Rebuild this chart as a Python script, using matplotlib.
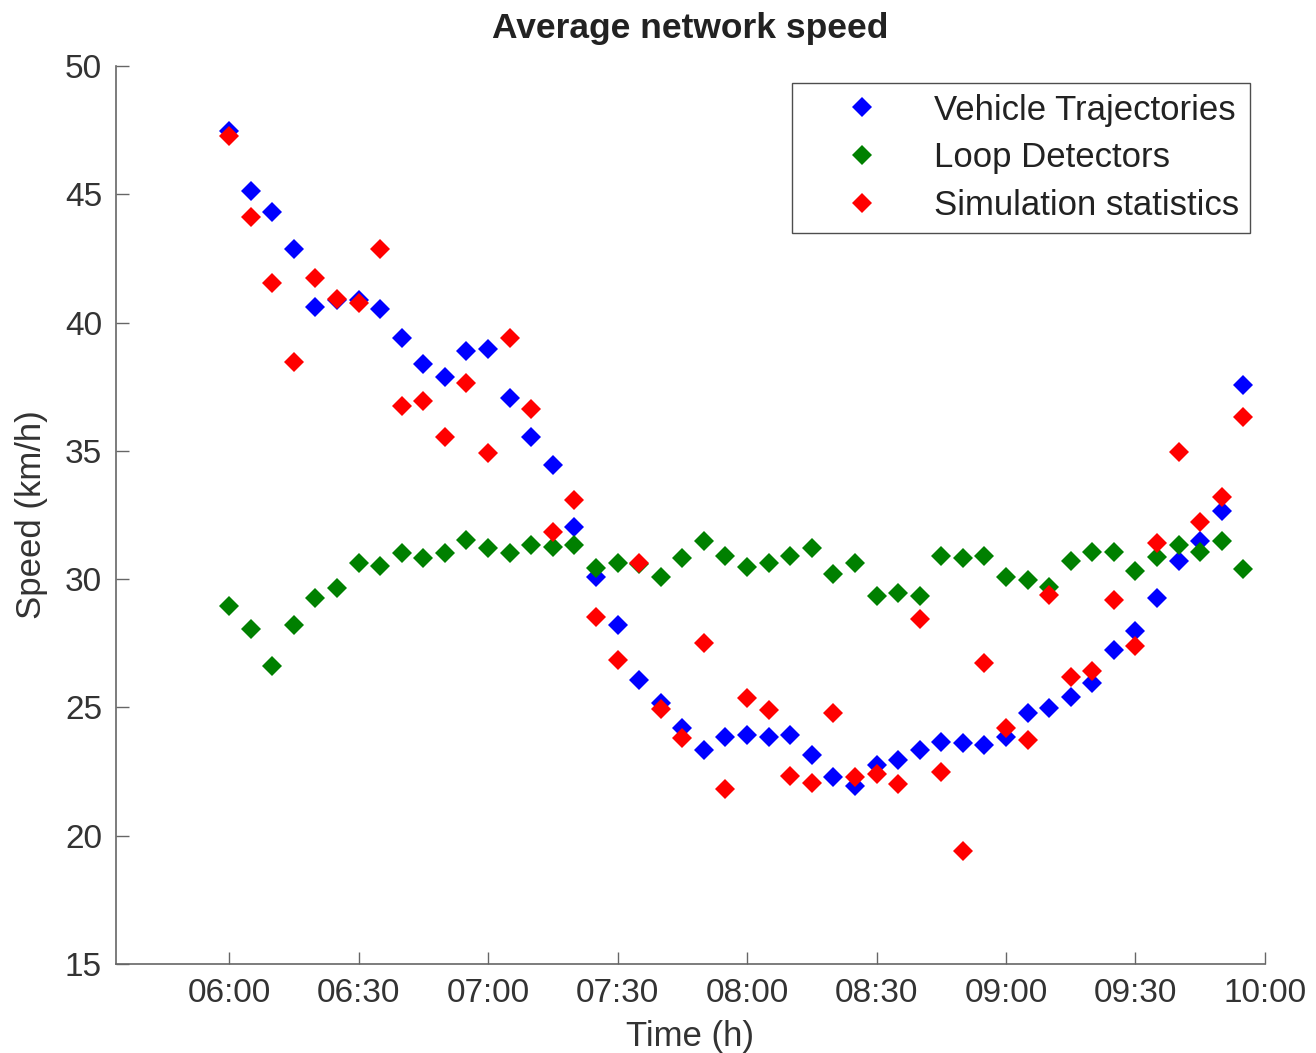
import numpy as np
import matplotlib
matplotlib.use("Agg")
import matplotlib.pyplot as plt

plt.rcParams['font.family'] = ['Liberation Sans', 'DejaVu Sans']

# 5-minute intervals from 06:00 to 09:55
t_hours = 6 + np.arange(48) * 5 / 60.0

trajectories = [47.47, 45.14, 44.30, 42.87, 40.62, 40.90, 40.88, 40.52, 39.41, 38.39,
                37.89, 38.90, 38.99, 37.07, 35.53, 34.45, 32.04, 30.10, 28.21, 26.07,
                25.16, 24.19, 23.34, 23.86, 23.93, 23.86, 23.93, 23.15, 22.27, 21.92,
                22.76, 22.95, 23.34, 23.67, 23.63, 23.54, 23.86, 24.77, 24.97, 25.42,
                25.94, 27.24, 27.98, 29.25, 30.71, 31.50, 32.66, 37.57]

loops = [28.95, 28.04, 26.61, 28.21, 29.25, 29.67, 30.62, 30.51, 31.01, 30.81,
         31.01, 31.53, 31.20, 31.01, 31.33, 31.27, 31.33, 30.42, 30.62, 30.60,
         30.10, 30.81, 31.50, 30.90, 30.49, 30.62, 30.90, 31.23, 30.21, 30.62,
         29.34, 29.45, 29.34, 30.90, 30.81, 30.90, 30.10, 29.97, 29.71, 30.69,
         31.04, 31.04, 30.33, 30.88, 31.35, 31.07, 31.50, 30.38]

simulation = [47.27, 44.10, 41.55, 38.48, 41.72, 40.91, 40.75, 42.87, 36.75, 36.94,
              35.53, 37.66, 34.92, 39.39, 36.62, 31.85, 33.08, 28.54, 26.83, 30.63,
              24.93, 23.80, 27.52, 21.81, 25.36, 24.90, 22.33, 22.07, 24.80, 22.27,
              22.41, 22.00, 28.45, 22.50, 19.42, 26.72, 24.19, 23.73, 29.38, 26.20,
              26.43, 29.19, 27.39, 31.42, 34.97, 32.24, 33.21, 36.33]

tick_hours = [6, 6.5, 7, 7.5, 8, 8.5, 9, 9.5, 10]
tick_labels = ['06:00', '06:30', '07:00', '07:30', '08:00', '08:30', '09:00', '09:30', '10:00']

fig = plt.figure(figsize=(13.16, 10.53), dpi=100)
ax = fig.add_axes([0.0881, 0.0845, 0.8731, 0.8528])

ms = 10.5
ax.plot(t_hours, trajectories, 'D', color=(0, 0, 1), ms=ms, mew=0, label='Vehicle Trajectories')
ax.plot(t_hours, loops, 'D', color=(0, 0.5, 0), ms=ms, mew=0, label='Loop Detectors')
ax.plot(t_hours, simulation, 'D', color=(1, 0, 0), ms=ms, mew=0, label='Simulation statistics')

ax.set_xlim(5.563, 10.0)
ax.set_ylim(15, 50)
ax.set_xticks(tick_hours)
ax.set_xticklabels(tick_labels)
ax.set_yticks(range(15, 51, 5))

for side in ['top', 'right']:
    ax.spines[side].set_visible(False)
for side in ['left', 'bottom']:
    ax.spines[side].set_color('#666666')
    ax.spines[side].set_linewidth(1.2)
ax.tick_params(direction='in', length=9, width=1.0, color='#666666',
               labelsize=24, labelcolor='#333333', pad=10)

ax.set_xlabel('Time (h)', fontsize=25, color='#333333', labelpad=8)
ax.set_ylabel('Speed (km/h)', fontsize=25, color='#333333', labelpad=12)
ax.set_title('Average network speed', fontsize=25.5, fontweight='bold', color='#222222', pad=20)

leg = ax.legend(loc='upper right', bbox_to_anchor=(0.987, 0.981), borderaxespad=0,
                fontsize=25, frameon=True, fancybox=False, edgecolor='#222222',
                borderpad=0.3, handletextpad=0.4, handlelength=3.4, labelspacing=0.43)
leg.get_frame().set_linewidth(1.0)
for txt in leg.get_texts():
    txt.set_color('#222222')

fig.savefig('out.png', dpi=100)
